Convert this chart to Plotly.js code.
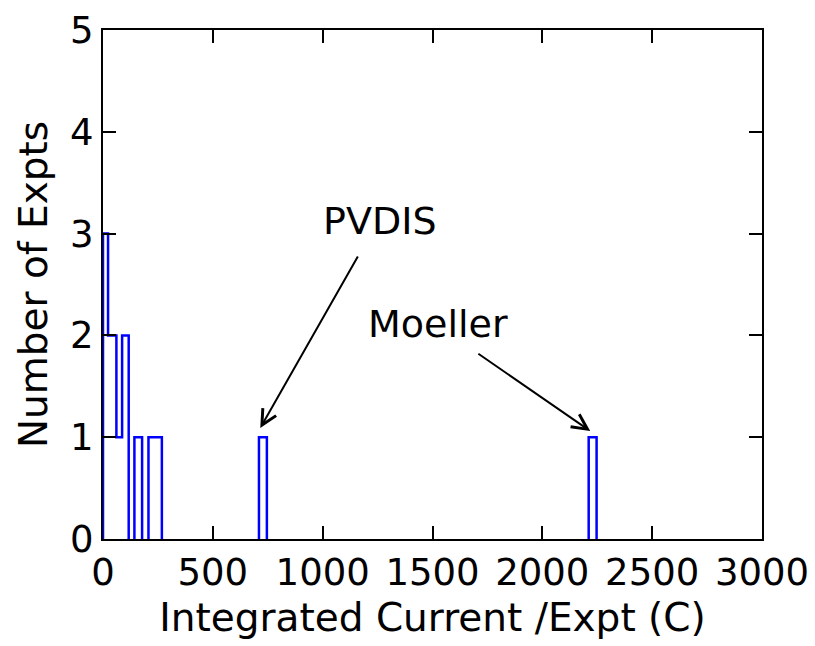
<!DOCTYPE html>
<html>
<head>
<meta charset="utf-8">
<script src="https://cdn.plot.ly/plotly-3.0.1.min.js"></script>
<style>html,body{margin:0;padding:0;background:#fff;}#chart{width:815px;height:646px;}</style>
</head>
<body>
<div id="chart"></div>
<script>
// Histogram bin edges (Coulombs) and counts per bin
const binEdges = [0, 23, 61, 87, 117, 143, 178, 207, 268, 710, 746, 2211, 2247];
const counts   = [3, 2, 1, 2, 0, 1, 0, 1, 0, 1, 0, 1];
const xTicks = [0, 500, 1000, 1500, 2000, 2500, 3000];
const yTicks = [0, 1, 2, 3, 4, 5];
const labels = [
  {text: 'PVDIS',   tx: 1262, ty: 3.12, hx: 716,  hy: 1.09, sx: 1164, sy: 2.79},
  {text: 'Moeller', tx: 1524, ty: 2.11, hx: 2218, hy: 1.06, sx: 1702, sy: 1.83}
];

// Build step outline, one segment per run of non-empty bins (no line along zero)
const stepX = [], stepY = [];
let i = 0;
while (i < counts.length) {
  if (counts[i] === 0) { i++; continue; }
  stepX.push(binEdges[i]); stepY.push(0);
  while (i < counts.length && counts[i] !== 0) {
    stepX.push(binEdges[i]); stepY.push(counts[i]);
    i++;
  }
  stepX.push(binEdges[i]); stepY.push(0);
  stepX.push(null); stepY.push(null);
}

const FONT = 'DejaVu Sans, Liberation Sans, sans-serif';

const trace = {
  type: 'scatter', mode: 'lines',
  x: stepX, y: stepY, connectgaps: false,
  line: {shape: 'hv', color: '#0000ff', width: 2.5},
  hoverinfo: 'skip', showlegend: false
};

const annotations = [];
labels.forEach(l => {
  annotations.push({x: l.tx, y: l.ty, xref: 'x', yref: 'y', text: l.text, showarrow: false,
    font: {family: FONT, size: 38, color: '#000'}, xanchor: 'center', yanchor: 'middle'});
  annotations.push({x: l.hx, y: l.hy, ax: l.sx, ay: l.sy, xref: 'x', yref: 'y', axref: 'x', ayref: 'y',
    text: '', showarrow: true, arrowhead: 5, arrowsize: 1.5, arrowwidth: 2, arrowcolor: '#000', standoff: 0, startstandoff: 0});
});

const axisCommon = {
  showgrid: false, zeroline: false, showline: true, linecolor: '#000', linewidth: 2,
  mirror: 'ticks', ticks: 'inside', ticklen: 13, tickwidth: 2, tickcolor: '#000',
  tickfont: {family: FONT, size: 37, color: '#000'}
};

const layout = {
  width: 815, height: 646,
  margin: {l: 103, r: 53, t: 30, b: 107, pad: 0},
  paper_bgcolor: '#fff', plot_bgcolor: '#fff',
  font: {family: FONT, color: '#000'},
  xaxis: Object.assign({}, axisCommon, {
    range: [0, 3000], tickvals: xTicks, ticktext: xTicks.map(String),
    title: {text: 'Integrated Current /Expt (C)', font: {family: FONT, size: 39, color: '#000'}, standoff: 10}
  }),
  yaxis: Object.assign({}, axisCommon, {
    range: [0, 5], tickvals: yTicks, ticktext: yTicks.map(String),
    title: {text: 'Number of Expts', font: {family: FONT, size: 39, color: '#000'}, standoff: 10}
  }),
  annotations: annotations,
  showlegend: false
};

Plotly.newPlot('chart', [trace], layout, {displayModeBar: false, staticPlot: true});
</script>
</body>
</html>
